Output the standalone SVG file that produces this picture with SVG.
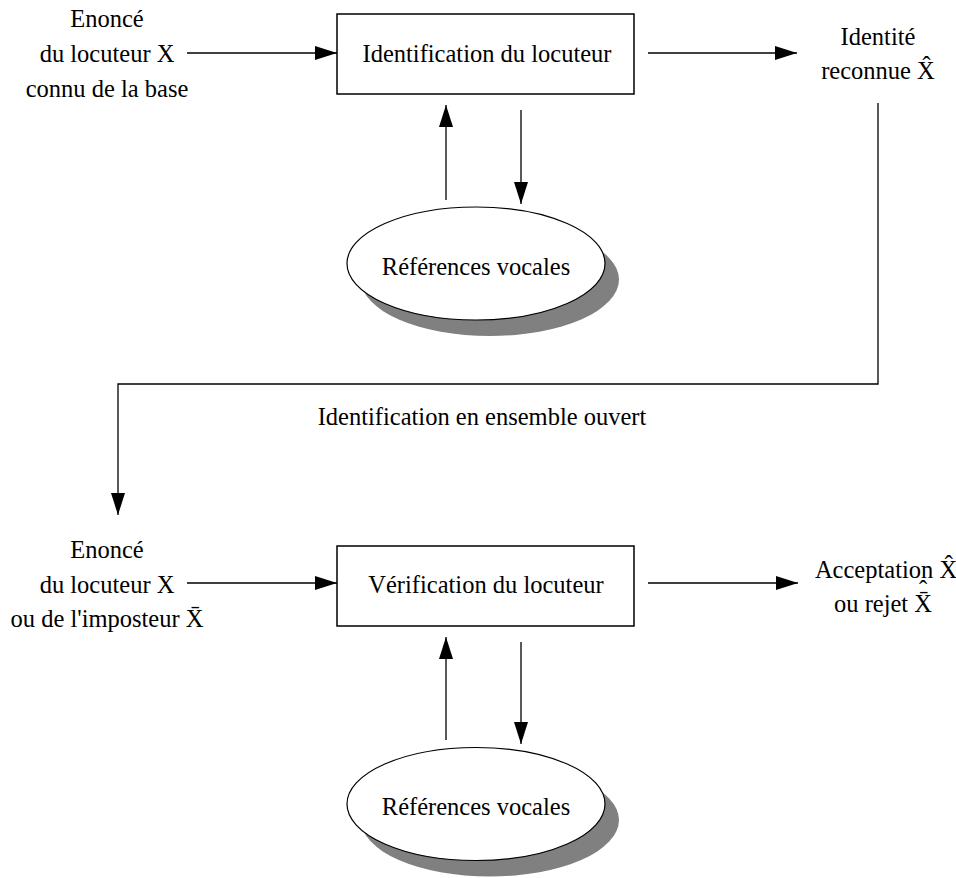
<svg xmlns="http://www.w3.org/2000/svg" width="956" height="878" viewBox="0 0 956 878">
  <defs>
    <marker id="arrow" markerUnits="userSpaceOnUse" markerWidth="22" markerHeight="14" refX="22" refY="7" orient="auto">
      <path d="M0,0 L22,7 L0,14 Z" fill="#000"/>
    </marker>
  </defs>
  <style>
    text { font-family: "Liberation Serif", "Times New Roman", serif; font-size: 24.5px; fill: #000; }
    .c { text-anchor: middle; }
    .box { fill: #fff; stroke: #000; stroke-width: 1.5; }
    .db { fill: #fff; stroke: #000; stroke-width: 1.2; }
    .shadow { fill: #808080; stroke: none; }
    .wire { fill: none; stroke: #000; stroke-width: 1.3; }
    .arr { marker-end: url(#arrow); }
  </style>
  <rect width="956" height="878" fill="#fff"/>

  <!-- connectors -->
  <g id="connectors">
    <line class="wire arr" x1="187" y1="53" x2="337" y2="53"/>
    <line class="wire arr" x1="648" y1="53" x2="797" y2="53"/>
    <line class="wire arr" x1="446" y1="200" x2="446" y2="105"/>
    <line class="wire arr" x1="521" y1="110" x2="521" y2="204"/>
    <polyline class="wire arr" points="878,103 878,384 118,384 118,515"/>
    <line class="wire arr" x1="187" y1="583" x2="337" y2="583"/>
    <line class="wire arr" x1="648" y1="583" x2="798" y2="583"/>
    <line class="wire arr" x1="446" y1="740" x2="446" y2="637"/>
    <line class="wire arr" x1="521" y1="642" x2="521" y2="744"/>
  </g>

  <!-- identification stage -->
  <g id="input-id">
    <text class="c" x="107" y="27">Enoncé</text>
    <text class="c" x="107" y="62">du locuteur X</text>
    <text class="c" x="107" y="97">connu de la base</text>
  </g>
  <g id="identification">
    <rect class="box" x="337" y="14" width="297" height="80"/>
    <text class="c" x="487" y="62">Identification du locuteur</text>
  </g>
  <g id="output-id">
    <text class="c" x="878" y="45">Identité</text>
    <text class="c" x="878" y="79">reconnue X&#x302;</text>
  </g>
  <g id="refs-id">
    <ellipse class="shadow" cx="490" cy="279.5" rx="129" ry="56.5"/>
    <ellipse class="db" cx="476" cy="263.5" rx="129" ry="56.5"/>
    <text class="c" x="476" y="275">Références vocales</text>
  </g>

  <g id="open-set-label">
    <text class="c" x="482" y="425">Identification en ensemble ouvert</text>
  </g>

  <!-- verification stage -->
  <g id="input-verif">
    <text class="c" x="107" y="558">Enoncé</text>
    <text class="c" x="107" y="593">du locuteur X</text>
    <text class="c" x="107" y="627">ou de l'imposteur X&#x304;</text>
  </g>
  <g id="verification">
    <rect class="box" x="337" y="546" width="297" height="80"/>
    <text class="c" x="486" y="593">Vérification du locuteur</text>
  </g>
  <g id="output-verif">
    <text class="c" x="886" y="578">Acceptation X&#x302;</text>
    <!-- barred X with its hat stacked above the bar -->
    <text class="c" x="883" y="612">ou rejet X&#x304;<tspan x="923" y="598">&#x2C6;</tspan></text>
  </g>
  <g id="refs-verif">
    <ellipse class="shadow" cx="490" cy="820" rx="129" ry="56.5"/>
    <ellipse class="db" cx="476" cy="804" rx="129" ry="56.5"/>
    <text class="c" x="476" y="815">Références vocales</text>
  </g>
</svg>
